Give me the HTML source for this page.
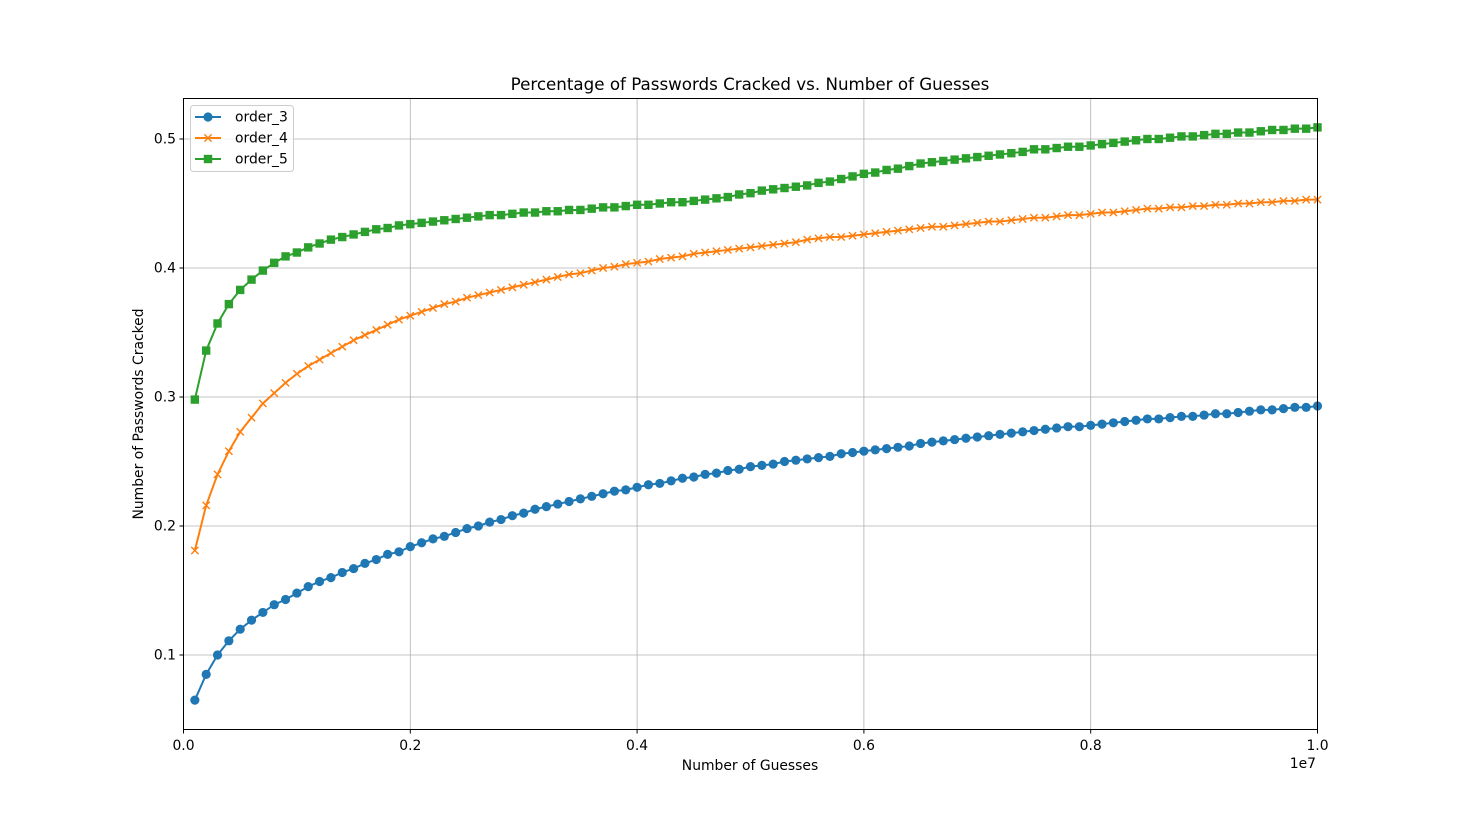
<!DOCTYPE html>
<html><head><meta charset="utf-8"><style>
html,body{margin:0;padding:0;background:#fff;}
svg{display:block;font-family:"DejaVu Sans","Liberation Sans",sans-serif;}
</style></head><body>
<svg id="chart" width="1462" height="819" viewBox="0 0 1462 819" xmlns="http://www.w3.org/2000/svg">
<rect width="1462" height="819" fill="#fff"/>
<text x="750" y="90" text-anchor="middle" font-size="16.7">Percentage of Passwords Cracked vs. Number of Guesses</text>
<g id="grid"></g>
<g id="series"></g>
<rect x="183.5" y="98.5" width="1134" height="631" fill="none" stroke="#000" stroke-width="1"/>
<g id="ticks"></g>
<text x="750" y="770" text-anchor="middle" font-size="13.9">Number of Guesses</text>
<text x="1316" y="768" text-anchor="end" font-size="13.9">1e7</text>
<text transform="translate(143,414) rotate(-90)" text-anchor="middle" font-size="13.9">Number of Passwords Cracked</text>
<g id="legend">
<rect x="190.5" y="105.5" width="103" height="66" rx="3" fill="#fff" fill-opacity="0.8" stroke="#ccc"/>
</g>
</svg>
<script>
const categories=[];for(let i=1;i<=100;i++)categories.push(i/100);
const order3=[.065,.085,.100,.111,.120,.127,.133,.139,.143,.148,.153,.157,.160,.164,.167,.171,.174,.178,.180,.184,
.187,.190,.192,.195,.198,.200,.203,.205,.208,.210,.213,.215,.217,.219,.221,.223,.225,.227,.228,.230,
.232,.233,.235,.237,.238,.240,.241,.243,.244,.246,.247,.248,.250,.251,.252,.253,.254,.256,.257,.258,
.259,.260,.261,.262,.264,.265,.266,.267,.268,.269,.270,.271,.272,.273,.274,.275,.276,.277,.277,.278,
.279,.280,.281,.282,.283,.283,.284,.285,.285,.286,.287,.287,.288,.289,.290,.290,.291,.292,.292,.293];
const order4=[.181,.216,.240,.258,.273,.284,.295,.303,.311,.318,.324,.329,.334,.339,.344,.348,.352,.356,.360,.363,
.366,.369,.372,.374,.377,.379,.381,.383,.385,.387,.389,.391,.393,.395,.396,.398,.400,.401,.403,.404,
.405,.407,.408,.409,.411,.412,.413,.414,.415,.416,.417,.418,.419,.420,.422,.423,.424,.424,.425,.426,
.427,.428,.429,.430,.431,.432,.432,.433,.434,.435,.436,.436,.437,.438,.439,.439,.440,.441,.441,.442,
.443,.443,.444,.445,.446,.446,.447,.447,.448,.448,.449,.449,.450,.450,.451,.451,.452,.452,.453,.453];
const order5=[.298,.336,.357,.372,.383,.391,.398,.404,.409,.412,.416,.419,.422,.424,.426,.428,.430,.431,.433,.434,
.435,.436,.437,.438,.439,.440,.441,.441,.442,.443,.443,.444,.444,.445,.445,.446,.447,.447,.448,.449,
.449,.450,.451,.451,.452,.453,.454,.455,.457,.458,.460,.461,.462,.463,.464,.466,.467,.469,.471,.473,
.474,.476,.477,.479,.481,.482,.483,.484,.485,.486,.487,.488,.489,.490,.492,.492,.493,.494,.494,.495,
.496,.497,.498,.499,.500,.500,.501,.502,.502,.503,.504,.504,.505,.505,.506,.507,.507,.508,.508,.509];
const xTicks=[0,0.2,0.4,0.6,0.8,1.0];
const xTickLabels=["0.0","0.2","0.4","0.6","0.8","1.0"];
const yTicks=[0.1,0.2,0.3,0.4,0.5];
const yTickLabels=["0.1","0.2","0.3","0.4","0.5"];
const seriesNames=["order_3","order_4","order_5"];

const NS="http://www.w3.org/2000/svg";
const X=v=>183.5+v*1134;
const Y=v=>784-v*1290;
function mk(tag,attrs,parent){const e=document.createElementNS(NS,tag);for(const k in attrs)e.setAttribute(k,attrs[k]);parent.appendChild(e);return e;}
const grid=document.getElementById('grid'),ticks=document.getElementById('ticks'),ser=document.getElementById('series'),leg=document.getElementById('legend');
xTicks.forEach((t,i)=>{
  const g=mk('line',{x1:X(t),x2:X(t),y1:98.5,y2:729.5,stroke:'#b0b0b0','stroke-width':0.8},grid);
  
  
  const tk=mk('line',{x1:X(t),x2:X(t),y1:729.5,y2:733.5,stroke:'#000'},ticks);
  
  
  const tl=mk('text',{x:X(t),y:750,'text-anchor':'middle','font-size':13.9},ticks);tl.textContent=xTickLabels[i];
  
  
});
yTicks.forEach((t,i)=>{
  const g=mk('line',{x1:183.5,x2:1317.5,y1:Y(t),y2:Y(t),stroke:'#b0b0b0','stroke-width':0.8},grid);
  
  
  const tk=mk('line',{x1:179.5,x2:183.5,y1:Y(t),y2:Y(t),stroke:'#000'},ticks);
  
  
  const tl=mk('text',{x:176,y:Y(t)+4.5,'text-anchor':'end','font-size':13.9},ticks);tl.textContent=yTickLabels[i];
  
  
});
const colors=['#1f77b4','#ff7f0e','#2ca02c'];
const shapes=['circle','x','square'];
function marker(shape,cx,cy,c,parent){
  let m;
  if(shape==='circle')m=mk('circle',{cx,cy,r:4.6,fill:c},parent);
  else if(shape==='square')m=mk('rect',{x:cx-4.2,y:cy-4.2,width:8.4,height:8.4,fill:c},parent);
  else m=mk('path',{d:`M${cx-3.6},${cy-3.6}L${cx+3.6},${cy+3.6}M${cx-3.6},${cy+3.6}L${cx+3.6},${cy-3.6}`,stroke:c,'stroke-width':1.4,fill:'none'},parent);
  return m;
}
[order3,order4,order5].forEach((vals,s)=>{
  const g=mk('g',{},ser);
  
  
  const d=vals.map((v,i)=>(i?'L':'M')+X(categories[i])+','+Y(v)).join('');
  mk('path',{d,fill:'none',stroke:colors[s],'stroke-width':2},g);
  vals.forEach((v,i)=>{
    const m=marker(shapes[s],X(categories[i]),Y(v),colors[s],g);
    
    
  });
  const ly=117+s*21;
  const le=mk('g',{},leg);
  
  
  mk('line',{x1:195,x2:221,y1:ly,y2:ly,stroke:colors[s],'stroke-width':2},le);
  marker(shapes[s],208,ly,colors[s],le);
  const t=mk('text',{x:235,y:ly+4.5,'font-size':13.9},le);t.textContent=seriesNames[s];
});
</script>
</body></html>
